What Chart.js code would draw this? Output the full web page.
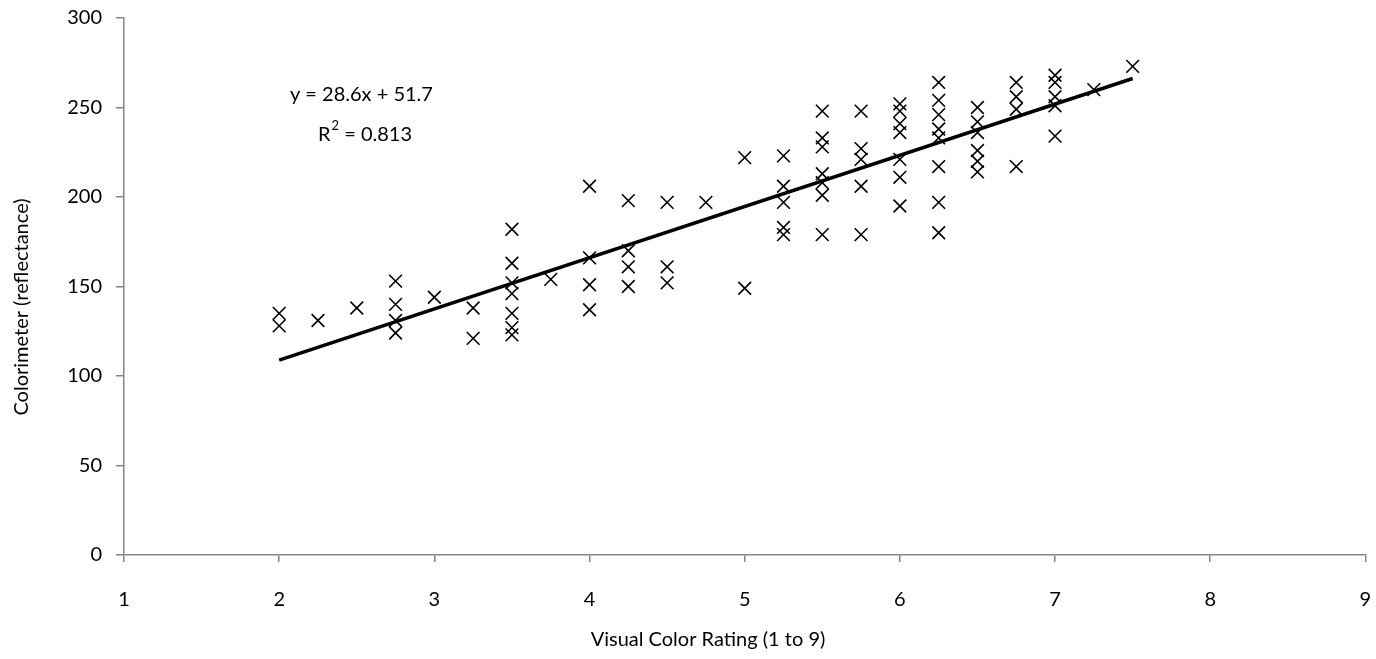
<!DOCTYPE html>
<html>
<head>
<meta charset="utf-8">
<script src="https://cdn.jsdelivr.net/npm/chart.js@4"></script>
<style>
  html, body { margin: 0; padding: 0; background: #fff; }
  #wrap { width: 1376px; height: 659px; }
</style>
</head>
<body>
<div id="wrap"><canvas id="chart" width="1376" height="659"></canvas></div>
<script>
// --- data ---
const ratingX = [
  2, 2,
  2.25,
  2.5,
  2.75, 2.75, 2.75, 2.75,
  3,
  3.25, 3.25,
  3.5, 3.5, 3.5, 3.5, 3.5, 3.5, 3.5,
  3.75,
  4, 4, 4, 4,
  4.25, 4.25, 4.25, 4.25,
  4.5, 4.5, 4.5,
  4.75,
  5, 5,
  5.25, 5.25, 5.25, 5.25, 5.25,
  5.5, 5.5, 5.5, 5.5, 5.5, 5.5, 5.5,
  5.75, 5.75, 5.75, 5.75, 5.75,
  6, 6, 6, 6, 6, 6, 6,
  6.25, 6.25, 6.25, 6.25, 6.25, 6.25, 6.25, 6.25,
  6.5, 6.5, 6.5, 6.5, 6.5, 6.5,
  6.75, 6.75, 6.75, 6.75,
  7, 7, 7, 7, 7,
  7.25,
  7.5
];
const colorimeterY = [
  135, 128,
  131,
  138,
  153, 140, 131, 124,
  144,
  138, 121,
  182, 163, 152, 146, 135, 127, 123,
  154,
  206, 166, 151, 137,
  198, 170, 161, 150,
  197, 161, 152,
  197,
  222, 149,
  223, 206, 197, 183, 179,
  248, 233, 228, 213, 208, 201, 179,
  248, 227, 221, 206, 179,
  252, 248, 241, 236, 221, 211, 195,
  264, 254, 246, 238, 233, 217, 197, 180,
  250, 242, 236, 226, 220, 214,
  264, 256, 249, 217,
  268, 264, 256, 251, 234,
  260,
  273
];
// fitted line end points (y = 28.6x + 51.7 at x = 2 and 7.5)
const trendX = [2, 7.5];
const trendY = [108.9, 266.2];

const xTicks = [1, 2, 3, 4, 5, 6, 7, 8, 9];
const yTicks = [0, 50, 100, 150, 200, 250, 300];

const xTitle = 'Visual Color Rating (1 to 9)';
const yTitle = 'Colorimeter (reflectance)';

const FONT = "Lato, 'Open Sans', sans-serif";
const AXIS_GREY = '#868686';

// axis titles + equation text (titles sit off-centre in the original)
const textLayer = {
  id: 'textLayer',
  afterDraw(chart) {
    const ctx = chart.ctx;
    const xs = chart.scales.x, ys = chart.scales.y;
    ctx.save();
    ctx.fillStyle = '#000';
    ctx.font = '20px ' + FONT;
    ctx.textBaseline = 'middle';
    ctx.textAlign = 'center';

    ctx.fillText(xTitle, 708, 640);
    ctx.save();
    ctx.translate(22, 307);
    ctx.rotate(-Math.PI / 2);
    ctx.fillText(yTitle, 0, 0);
    ctx.restore();

    ctx.fillText('y = 28.6x + 51.7', xs.getPixelForValue(2.53), ys.getPixelForValue(257));
    // R² line with superscript
    const cy = ys.getPixelForValue(235);
    const left = xs.getPixelForValue(2.25);
    ctx.textAlign = 'left';
    ctx.fillText('R', left, cy);
    let w = ctx.measureText('R').width;
    ctx.font = '13px ' + FONT;
    ctx.fillText('2', left + w + 1, cy - 9);
    w += ctx.measureText('2').width + 1;
    ctx.font = '20px ' + FONT;
    ctx.fillText(' = 0.813', left + w, cy);
    ctx.restore();
  }
};

const points = ratingX.map((x, i) => ({ x: x, y: colorimeterY[i] }));
const trend = trendX.map((x, i) => ({ x: x, y: trendY[i] }));

new Chart(document.getElementById('chart'), {
  type: 'scatter',
  data: {
    datasets: [
      {
        data: trend,
        type: 'line',
        showLine: true,
        borderColor: '#000',
        borderWidth: 3.5,
        pointRadius: 0,
        fill: false
      },
      {
        data: points,
        pointStyle: 'crossRot',
        pointRadius: 9,
        pointBorderColor: '#000',
        pointBorderWidth: 1.6,
        pointBackgroundColor: '#000'
      }
    ]
  },
  options: {
    responsive: false,
    animation: false,
    layout: { padding: { left: 0, right: 10, top: 18, bottom: 8 } },
    plugins: {
      legend: { display: false },
      tooltip: { enabled: false }
    },
    scales: {
      x: {
        type: 'linear',
        min: 1, max: 9,
        afterBuildTicks: (s) => { s.ticks = xTicks.map(v => ({ value: v })); },
        ticks: { color: '#000', font: { family: FONT, size: 20 }, padding: 26 },
        grid: { drawOnChartArea: false, color: AXIS_GREY, tickLength: 7, lineWidth: 1.5 },
        border: { color: AXIS_GREY, width: 1.5 },
        afterFit: (s) => { s.height = 96; s.paddingLeft = 0; s.paddingRight = 0; }
      },
      y: {
        type: 'linear',
        min: 0, max: 300,
        afterBuildTicks: (s) => { s.ticks = yTicks.map(v => ({ value: v })); },
        ticks: { color: '#000', font: { family: FONT, size: 20 }, padding: 14 },
        grid: { drawOnChartArea: false, color: AXIS_GREY, tickLength: 8, lineWidth: 1.5 },
        border: { color: AXIS_GREY, width: 1.5 },
        afterFit: (s) => { s.width = 124; s.paddingTop = 0; s.paddingBottom = 0; }
      }
    }
  },
  plugins: [textLayer]
});
</script>
</body>
</html>
